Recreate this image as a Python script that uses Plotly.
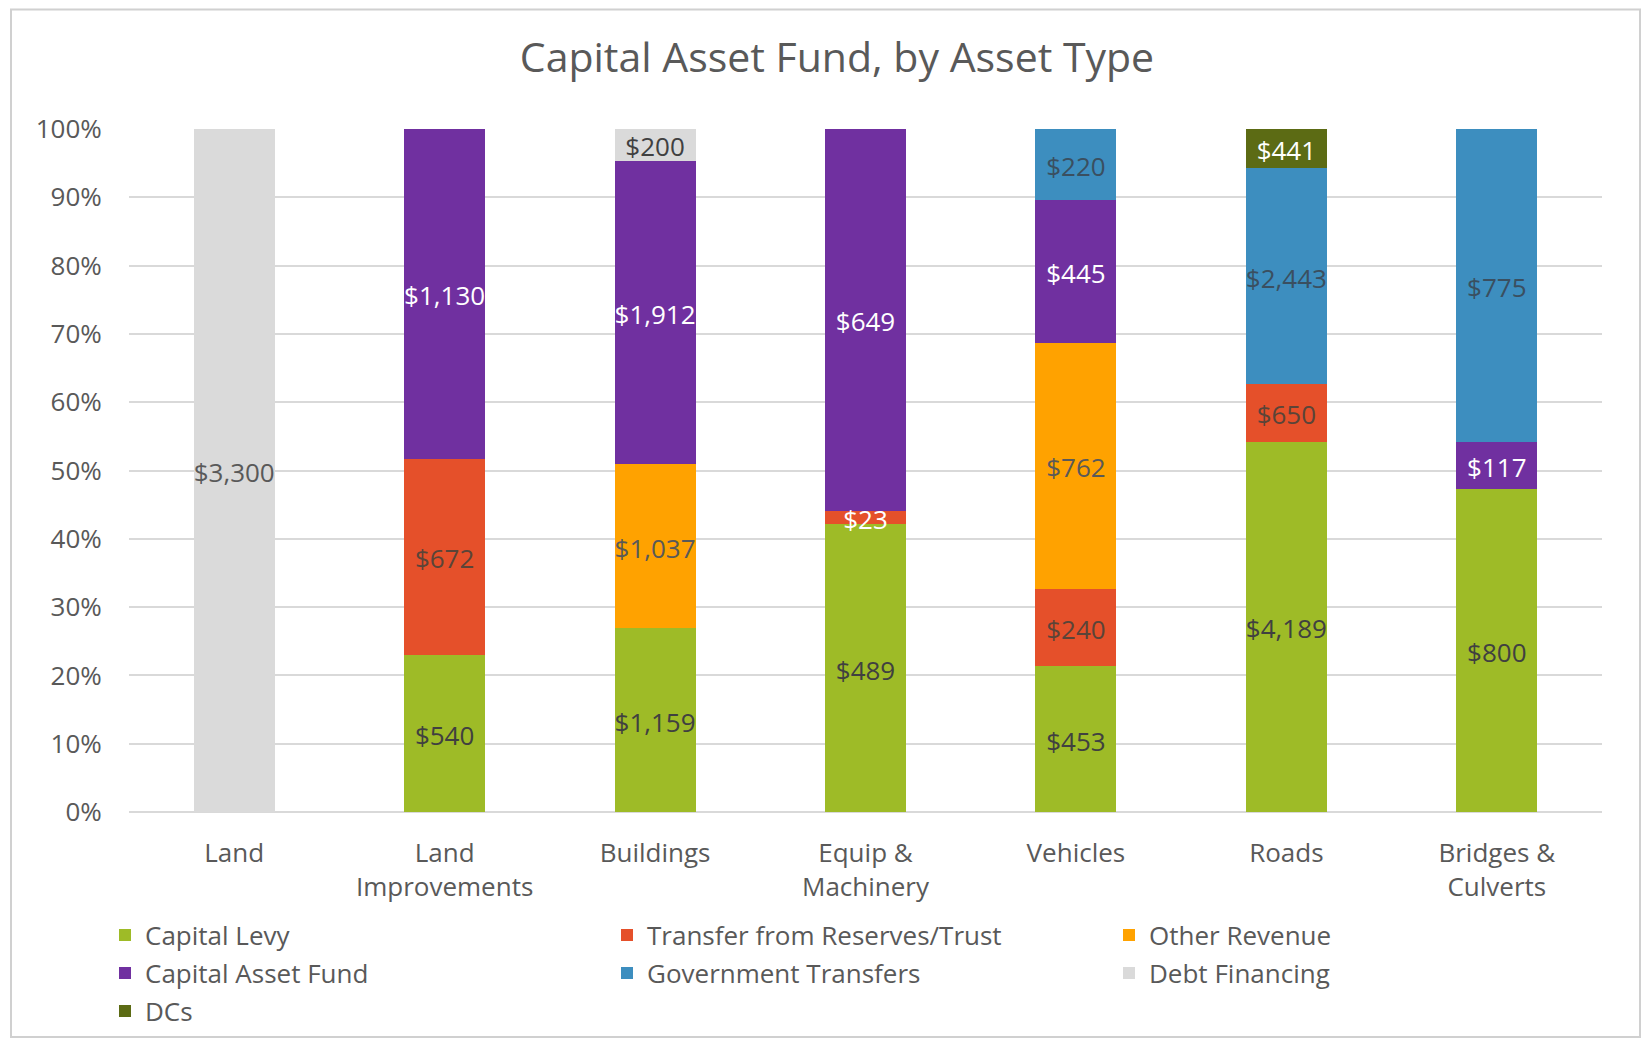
import plotly.graph_objects as go

categories = ["Land", "Land<br>Improvements", "Buildings", "Equip &<br>Machinery",
              "Vehicles", "Roads", "Bridges &<br>Culverts"]

capital_levy = [None, 540, 1159, 489, 453, 4189, 800]
transfer_reserves = [None, 672, None, 23, 240, 650, None]
other_revenue = [None, None, 1037, None, 762, None, None]
capital_asset_fund = [None, 1130, 1912, 649, 445, None, 117]
government_transfers = [None, None, None, None, 220, 2443, 775]
debt_financing = [3300, None, 200, None, None, None, None]
dcs = [None, None, None, None, None, 441, None]

series = [
    ("Capital Levy", capital_levy, "#9EBB27", ["#404040"] * 7),
    ("Transfer from Reserves/Trust", transfer_reserves, "#E5502A",
     ["#5A4438", "#5A4438", "#5A4438", "#FFFFFF", "#5A4438", "#5A4438", "#5A4438"]),
    ("Other Revenue", other_revenue, "#FFA200", ["#595959"] * 7),
    ("Capital Asset Fund", capital_asset_fund, "#7030A0", ["#FFFFFF"] * 7),
    ("Government Transfers", government_transfers, "#3D8EBF", ["#3A4F60"] * 7),
    ("Debt Financing", debt_financing, "#DADADA",
     ["#595959", "#404040", "#404040", "#404040", "#404040", "#404040", "#404040"]),
    ("DCs", dcs, "#5C6B14", ["#FFFFFF"] * 7),
]

FONT = "Open Sans, Noto Sans, sans-serif"
GREY = "#595959"
FS = 26

# page body has an 8px margin: work in screen pixels, convert to figure pixels
OFF = 8
W, H = 1650 - 2 * OFF, 1047 - 2 * OFF
L, R, T, B = 129 - OFF, 1602 - OFF, 129 - OFF, 812 - OFF
pw, ph = R - L, B - T


def px_x(sx):
    return (sx - OFF - L) / pw


def px_y(sy):
    return (B - (sy - OFF)) / ph


LABEL_SHIFT = -5.0 / ph * 100  # data labels sit slightly below segment centre

fig = go.Figure()

totals = [sum(v[i] or 0 for _, v, _, _ in series) for i in range(len(categories))]
cum = [0.0] * len(categories)
label_x, label_y, label_t, label_c = [], [], [], []

for k, (name, vals, color, tcolors) in enumerate(series):
    legend_id = ["legend", "legend2", "legend3"][k // 3]
    fig.add_trace(go.Bar(
        name=name, x=categories, y=vals,
        marker=dict(color=color, line=dict(width=0)),
        legend=legend_id, hoverinfo="x+y+name",
    ))
    for i, v in enumerate(vals):
        if v is None:
            continue
        pct = v / totals[i] * 100
        label_x.append(categories[i])
        label_y.append(cum[i] + pct / 2 + LABEL_SHIFT)
        label_t.append("${:,}".format(v))
        label_c.append(tcolors[i])
        cum[i] += pct

fig.add_trace(go.Scatter(
    x=label_x, y=label_y, text=label_t, mode="text", textposition="middle center",
    textfont=dict(family=FONT, size=FS, color=label_c), showlegend=False,
    hoverinfo="skip", cliponaxis=False,
))

legend_common = dict(orientation="h", xanchor="left", yanchor="middle",
                     entrywidth=457, entrywidthmode="pixels",
                     font=dict(family=FONT, size=FS, color=GREY),
                     traceorder="normal", itemclick=False, bgcolor="rgba(0,0,0,0)")
lx = px_x(105)

fig.update_layout(
    width=W, height=H,
    barmode="stack", barnorm="percent", bargap=0.615,
    paper_bgcolor="white", plot_bgcolor="white",
    margin=dict(l=L, r=W - R, t=T, b=H - B, autoexpand=False),
    font=dict(family=FONT, color=GREY, size=FS),
    title=dict(text="Capital Asset Fund, by Asset Type", x=px_x(837), xref="paper",
               xanchor="center", y=1 - (58 - OFF) / H, yref="container", yanchor="middle",
               font=dict(family=FONT, size=41, color=GREY)),
    showlegend=True,
    legend=dict(x=lx, y=px_y(935), **legend_common),
    legend2=dict(x=lx, y=px_y(973), **legend_common),
    legend3=dict(x=lx, y=px_y(1011), **legend_common),
    xaxis=dict(showgrid=False, ticks="outside", ticklen=18, tickcolor="rgba(0,0,0,0)",
               tickfont=dict(family=FONT, size=FS, color=GREY), showline=False,
               fixedrange=True),
    yaxis=dict(range=[0, 100], dtick=10, ticksuffix="%", showgrid=True,
               gridcolor="#D9D9D9", gridwidth=1.5, zeroline=True, zerolinecolor="#D9D9D9",
               zerolinewidth=1.5, ticks="outside", ticklen=21, tickcolor="rgba(0,0,0,0)",
               tickfont=dict(family=FONT, size=FS, color=GREY), showline=False,
               fixedrange=True),
    shapes=[dict(type="rect", xref="paper", yref="paper",
                 x0=(3 - L) / pw, x1=(W - 2 - L) / pw,
                 y0=(B - (H - 2)) / ph, y1=(B - 1.5) / ph,
                 line=dict(color="#D0D0D0", width=2), fillcolor="rgba(0,0,0,0)",
                 layer="below")],
)

fig.write_html("out.html")
